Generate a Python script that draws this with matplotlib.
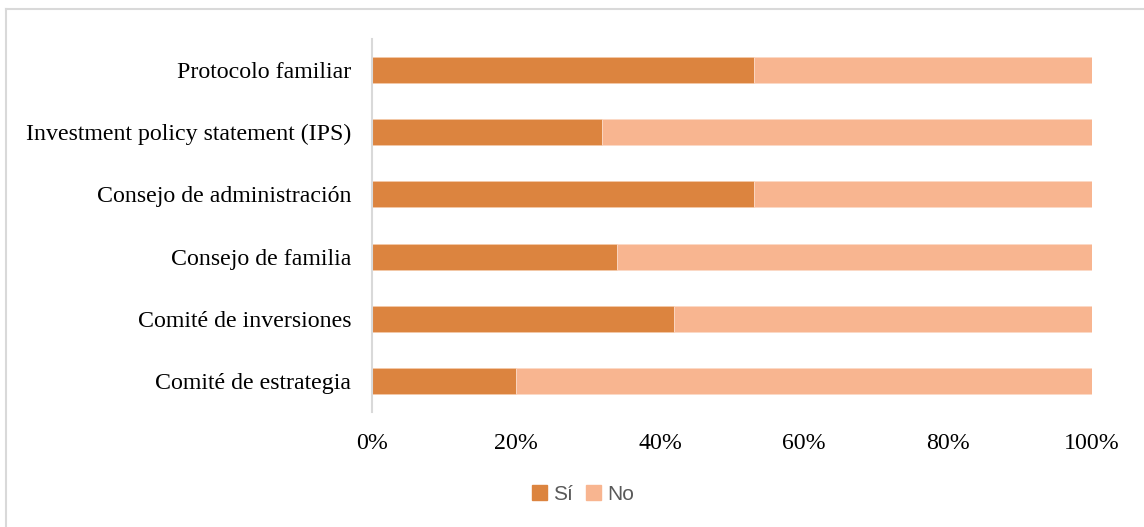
import matplotlib.pyplot as plt
from matplotlib.lines import Line2D
from matplotlib.patches import Patch

categories = [
    "Comité de estrategia",
    "Comité de inversiones",
    "Consejo de familia",
    "Consejo de administración",
    "Investment policy statement (IPS)",
    "Protocolo familiar",
]
si = [20, 42, 34, 53, 32, 53]
no = [100 - v for v in si]
ticks = [0, 20, 40, 60, 80, 100]
tick_labels = ["0%", "20%", "40%", "60%", "80%", "100%"]

c_si = "#DC843F"
c_no = "#F8B590"

fig = plt.figure(figsize=(11.44, 5.27), dpi=100)
ax = fig.add_axes([372 / 1144, 1 - 412 / 527, 720 / 1144, 373 / 527])

y = range(len(categories))
ax.barh(y, si, height=0.42, color=c_si, edgecolor="#F3C9A8", linewidth=0.6)
ax.barh(y, no, left=si, height=0.42, color=c_no, edgecolor="#FBD9C6", linewidth=0.6)

ax.set_xlim(0, 100)
ax.set_ylim(-0.5, len(categories) - 0.5)
ax.set_yticks(list(y))
ax.set_yticklabels(categories, fontsize=17.2, family="Liberation Serif")
ax.set_xticks(ticks)
ax.set_xticklabels(tick_labels, fontsize=17.2, family="Liberation Serif")
ax.tick_params(length=0, pad=15, axis="x")
ax.tick_params(length=0, pad=15, axis="y")

for s in ["top", "right", "bottom"]:
    ax.spines[s].set_visible(False)
ax.spines["left"].set_color("#D9D9D9")
ax.spines["left"].set_linewidth(1.5)

handles = [Patch(color=c_si, label="Sí"), Patch(color=c_no, label="No")]
fig.legend(handles=handles, loc="center", bbox_to_anchor=(583 / 1144, 1 - 494 / 527),
           ncol=2, frameon=False, prop={"family": "Liberation Sans", "size": 15},
           labelcolor="#595959", handlelength=0.72, handleheight=0.72,
           handletextpad=0.3, columnspacing=0.6)

# figure frame (top and left edges visible)
fig.add_artist(Line2D([6 / 1144, 1], [1 - 9 / 527, 1 - 9 / 527], color="#D9D9D9", lw=1.5))
fig.add_artist(Line2D([6 / 1144, 6 / 1144], [0, 1 - 9 / 527], color="#D9D9D9", lw=1.5))

fig.savefig("out.png", dpi=100)
